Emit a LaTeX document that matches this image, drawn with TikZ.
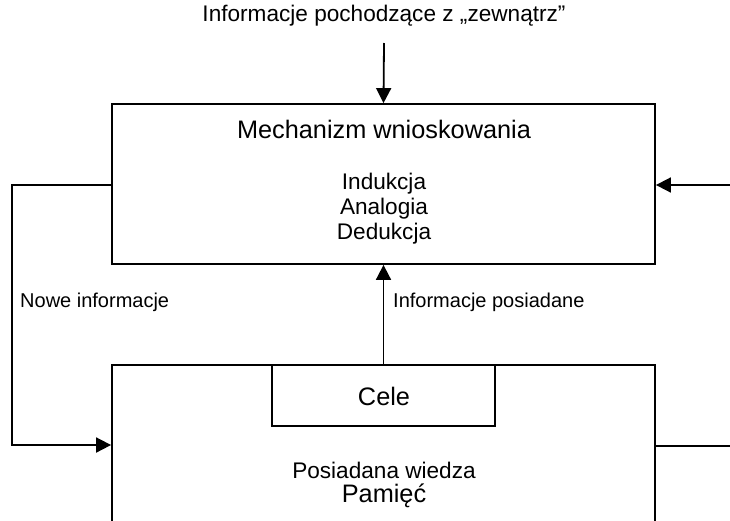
\documentclass[tikz,border=0pt]{standalone}
\usepackage{fontspec}
\setmainfont{Liberation Sans}
\usetikzlibrary{arrows.meta}
\begin{document}
\begin{tikzpicture}[x=1pt,y=-1pt,
  box/.style={draw,line width=1.8pt,inner sep=0pt},
  conn/.style={line width=1.8pt},
  arr/.style={conn,-{Triangle[length=15pt,width=15pt]}},
  txt/.style={inner sep=0pt,font=\fontsize{22.6}{25}\selectfont},
  big/.style={inner sep=0pt,font=\fontsize{25.3}{28}\selectfont},
  lbl/.style={inner sep=0pt,font=\fontsize{20}{22}\selectfont,anchor=west}]
\useasboundingbox (0,0) rectangle (730,520);
% boxes
\node[box,minimum width=543pt,minimum height=160pt] (mech) at (383.5,184) {};
\node[box,minimum width=543pt,minimum height=180pt] (mem) at (383.5,455) {};
\node[box,minimum width=223pt,minimum height=61pt] (cele) at (383.5,395.5) {};
% texts
\node[txt] (ext) at (384,16) {Informacje pochodzące z „zewnątrz”};
\node[big] (mechT) at (384,129) {Mechanizm wnioskowania};
\node[txt,align=center] (list) at (384,209) {Indukcja\\Analogia\\Dedukcja};
\node[big] (celeT) at (384,396) {Cele};
\node[txt] (wiedza) at (384,470) {Posiadana wiedza};
\node[big] (pam) at (384,496) {Pamięć};
% connectors
\coordinate (extend) at (384,43);
\draw[arr] (extend) -- (mech.north);
\coordinate (L1) at (12,185);
\coordinate (L2) at (12,445);
\draw[arr] (mech.west |- L1) -- (L1) -- (L2) -- (mem.west |- L2);
\node[lbl] (nowe) at (20,302) {Nowe informacje};
\draw[arr] (cele.north) -- (mech.south);
\node[lbl] (posiad) at (393,302) {Informacje posiadane};
\coordinate (R1) at (730,185);
\coordinate (R2) at (730,446);
\draw[arr] (R1) -- (mech.east |- R1);
\draw[conn] (mem.east |- R2) -- (R2);
\end{tikzpicture}
\end{document}
